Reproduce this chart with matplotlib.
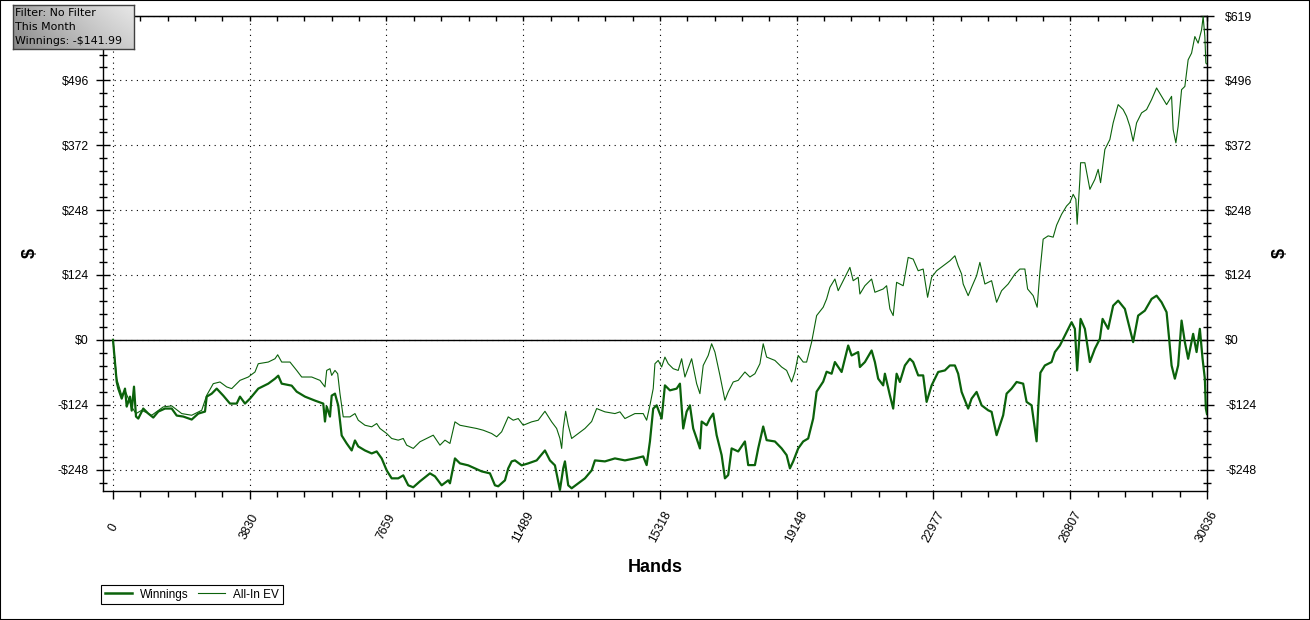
import numpy as np
import matplotlib
matplotlib.use("Agg")
import matplotlib.pyplot as plt
from matplotlib.ticker import FixedLocator, FuncFormatter
from matplotlib.patches import Rectangle
from matplotlib.lines import Line2D

# ---------------- data ----------------
winnings_hands = [0, 104, 148, 244, 336, 384, 476, 524, 588, 644, 708, 848, 988, 1128, 1268,
                  1456, 1644, 1784, 1968, 2204, 2388, 2576, 2624, 2764, 2904, 3088, 3276, 3464,
                  3556, 3696, 3836, 4068, 4348, 4536, 4628, 4724, 5004, 5144, 5376, 5656, 5888,
                  5936, 5984, 6076, 6124, 6216, 6308, 6404, 6544, 6684, 6776, 6868, 7056, 7244,
                  7384, 7524, 7664, 7804, 7988, 8128, 8268, 8408, 8596, 8876, 9016, 9204, 9388,
                  9436, 9576, 9716, 9948, 10136, 10324, 10556, 10696, 10788, 10976, 11068, 11164,
                  11256, 11444, 11628, 11864, 12096, 12236, 12376, 12468, 12516, 12608, 12656,
                  12748, 12844, 13028, 13216, 13404, 13496, 13776, 14056, 14336, 14616, 14848,
                  14944, 15036, 15128, 15224, 15364, 15456, 15596, 15784, 15876, 15968, 16064,
                  16156, 16248, 16344, 16436, 16484, 16624, 16716, 16808, 16904, 17044, 17136,
                  17228, 17324, 17508, 17696, 17788, 17976, 18068, 18208, 18304, 18536, 18724,
                  18864, 18956, 19048, 19188, 19328, 19468, 19608, 19704, 19888, 19984, 20124,
                  20216, 20404, 20588, 20684, 20868, 20916, 21056, 21244, 21336, 21428, 21568,
                  21616, 21756, 21848, 21944, 22036, 22176, 22316, 22408, 22548, 22688, 22784,
                  22924, 23108, 23296, 23436, 23576, 23668, 23764, 23948, 24044, 24184, 24324,
                  24508, 24604, 24744, 24836, 24928, 25024, 25164, 25304, 25488, 25584, 25724,
                  25864, 25908, 25970, 26096, 26284, 26376, 26516, 26656, 26844, 26936, 27000,
                  27096, 27216, 27356, 27496, 27636, 27712, 27868, 28008, 28148, 28336, 28476,
                  28568, 28708, 28896, 29084, 29224, 29364, 29504, 29576, 29644, 29736, 29828,
                  29924, 30016, 30108, 30248, 30344, 30436, 30512, 30576, 30604, 30636]
winnings_usd = [0, -80.6, -93.3, -112.4, -93.3, -127.6, -108.6, -135.3, -89.5, -146.7, -150.5,
                -131.4, -141.0, -148.6, -137.2, -131.4, -131.4, -144.8, -146.7, -152.4, -141.0,
                -137.2, -108.6, -102.9, -93.3, -106.7, -121.9, -121.9, -108.6, -121.9, -112.4,
                -93.3, -83.8, -74.3, -68.6, -83.8, -87.6, -99.1, -108.6, -116.2, -121.9, -156.2,
                -127.6, -146.7, -106.7, -102.9, -125.7, -182.9, -198.1, -211.5, -192.4, -203.8,
                -211.5, -217.2, -213.4, -226.7, -249.6, -264.8, -264.8, -259.1, -278.1, -281.9,
                -270.5, -255.3, -261.0, -278.1, -268.6, -274.3, -226.7, -236.2, -240.0, -245.7,
                -251.5, -255.3, -278.1, -280.0, -268.6, -245.7, -232.4, -230.5, -240.0, -236.2,
                -230.5, -211.5, -230.5, -240.0, -270.5, -287.0, -245.7, -232.4, -278.1, -283.8,
                -274.3, -264.8, -249.6, -230.5, -232.4, -226.7, -230.5, -226.7, -222.9, -239.5,
                -194.3, -131.4, -125.2, -150.5, -87.1, -96.6, -93.3, -83.8, -169.5, -137.2,
                -125.2, -169.5, -188.6, -207.6, -156.2, -163.3, -150.5, -141.0, -182.3, -220.4,
                -264.8, -258.5, -207.6, -213.4, -194.3, -239.5, -239.5, -207.6, -165.7, -191.8,
                -194.3, -207.6, -220.4, -245.7, -232.4, -207.6, -194.3, -188.6, -150.5, -99.1,
                -80.0, -61.0, -64.8, -42.5, -61.5, -10.9, -29.9, -23.4, -52.0, -42.5, -20.4,
                -42.5, -74.3, -87.1, -64.8, -106.1, -131.4, -64.8, -80.6, -49.0, -36.2, -42.5,
                -68.0, -68.0, -118.7, -87.1, -61.5, -58.5, -49.0, -49.0, -64.8, -99.6, -131.4,
                -112.4, -99.6, -125.2, -134.7, -137.7, -182.3, -163.3, -144.2, -102.9, -93.3,
                -80.6, -83.8, -118.7, -125.2, -194.0, -131.4, -62.9, -49.0, -42.5, -23.4, -10.9,
                8.2, 33.7, 21.0, -58.5, 40.0, 21.0, -42.5, -17.1, 1.9, 40.0, 21.0, 65.3, 74.9,
                59.1, 21.0, -4.4, 46.3, 55.8, 78.1, 84.4, 71.8, 52.8, 1.9, -49.0, -74.3, -49.0,
                36.8, -4.4, -36.2, 11.4, -23.4, 21.0, -36.2, -74.3, -131.4, -141.99]

allin_hands = [0, 104, 244, 336, 524, 644, 804, 1084, 1408, 1644, 1924, 2204, 2484, 2624, 2808,
               2996, 3184, 3324, 3556, 3788, 3976, 4068, 4348, 4536, 4612, 4724, 4956, 5144,
               5284, 5564, 5796, 5936, 5984, 6076, 6124, 6216, 6292, 6356, 6448, 6636, 6776,
               6868, 7056, 7244, 7384, 7476, 7664, 7804, 7988, 8128, 8224, 8408, 8596, 8784,
               8968, 9156, 9296, 9436, 9576, 9716, 9948, 10184, 10368, 10604, 10744, 10884,
               11068, 11208, 11348, 11488, 11724, 11908, 12096, 12284, 12424, 12516, 12564,
               12608, 12676, 12748, 12844, 13028, 13216, 13404, 13544, 13776, 14056, 14196,
               14336, 14616, 14848, 14944, 15036, 15128, 15176, 15268, 15364, 15456, 15548,
               15688, 15828, 15924, 16016, 16204, 16344, 16436, 16528, 16668, 16764, 16856,
               16996, 17136, 17228, 17368, 17508, 17696, 17836, 17976, 18116, 18208, 18304,
               18536, 18724, 18864, 19004, 19096, 19188, 19328, 19424, 19564, 19704, 19888,
               19984, 20076, 20216, 20308, 20448, 20636, 20728, 20868, 20916, 21056, 21244,
               21336, 21568, 21664, 21756, 21848, 21944, 22128, 22268, 22408, 22548, 22688,
               22812, 22924, 23064, 23248, 23436, 23576, 23668, 23764, 23808, 23948, 24044,
               24184, 24276, 24416, 24604, 24744, 24884, 25068, 25256, 25396, 25536, 25612,
               25768, 25880, 25956, 26048, 26188, 26328, 26424, 26564, 26704, 26796, 26888,
               26964, 27000, 27076, 27096, 27216, 27356, 27496, 27588, 27656, 27776, 27916,
               28008, 28148, 28288, 28384, 28476, 28568, 28664, 28804, 28944, 29084, 29224,
               29364, 29504, 29644, 29688, 29764, 29828, 29924, 30016, 30108, 30204, 30296,
               30388, 30484, 30528, 30576, 30604, 30636]
allin_usd = [0, -74.3, -106.1, -96.6, -128.2, -141.0, -134.7, -144.2, -128.2, -126.3, -141.0,
             -144.2, -134.7, -106.1, -83.8, -80.6, -90.1, -93.3, -77.5, -71.1, -61.5, -45.7,
             -42.5, -36.2, -28.6, -42.5, -42.5, -58.5, -71.1, -71.1, -77.5, -90.1, -58.5,
             -55.2, -68.0, -58.5, -64.8, -102.9, -147.3, -147.3, -141.0, -153.7, -163.3,
             -166.3, -160.0, -169.5, -179.1, -188.6, -191.8, -188.6, -201.4, -207.6, -194.9,
             -188.6, -182.3, -201.4, -191.8, -198.1, -156.8, -163.3, -166.3, -169.5, -172.8,
             -179.1, -185.4, -175.8, -147.3, -153.7, -150.5, -163.3, -156.8, -153.7, -136.6,
             -156.8, -169.5, -188.6, -207.6, -169.5, -136.6, -163.3, -188.6, -179.1, -169.5,
             -156.2, -131.4, -137.7, -141.0, -137.7, -150.5, -141.0, -141.0, -153.7, -125.2,
             -93.3, -45.7, -39.4, -52.0, -33.0, -45.7, -55.2, -58.5, -36.2, -71.1, -36.2,
             -83.8, -102.9, -49.0, -29.9, -7.6, -23.4, -68.0, -115.6, -99.6, -80.6, -77.5,
             -61.5, -71.1, -64.8, -45.7, -7.6, -33.0, -39.4, -52.0, -58.5, -80.6, -61.5,
             -29.9, -42.5, -42.5, -4.4, 46.3, 62.3, 78.1, 100.4, 116.2, 93.9, 113.0, 138.5,
             113.0, 119.4, 87.6, 103.4, 116.2, 90.9, 97.2, 103.4, 59.1, 46.3, 109.9, 103.4,
             157.5, 154.3, 132.0, 135.3, 81.3, 119.4, 132.0, 141.5, 151.1, 160.6, 141.5,
             125.7, 106.7, 84.4, 100.4, 122.5, 148.0, 106.7, 113.0, 71.8, 93.9, 106.7, 125.7,
             135.3, 135.3, 97.2, 84.4, 62.3, 129.0, 192.4, 198.7, 196.2, 219.1, 240.0, 255.8,
             262.3, 278.1, 268.6, 221.0, 306.7, 338.5, 338.5, 287.7, 306.7, 325.8, 300.4,
             363.9, 382.9, 414.7, 449.6, 440.1, 427.3, 408.2, 379.7, 414.7, 433.8, 440.1,
             459.1, 481.4, 465.4, 449.6, 465.4, 402.0, 376.6, 408.2, 478.2, 484.4, 535.3,
             548.1, 579.7, 567.1, 592.5, 617.8, 579.7, 529.0, 527.0]

x_ticks = [0, 3830, 7659, 11489, 15318, 19148, 22977, 26807, 30636]
y_ticks = [-248, -124, 0, 124, 248, 372, 496, 619]
series_names = ["Winnings", "All-In EV"]
filter_lines = ["Filter: No Filter", "This Month", "Winnings: -$141.99"]

# ---------------- layout ----------------
W, H = 1310, 620
plt.rcParams['font.family'] = ['Liberation Sans', 'DejaVu Sans']
fig = plt.figure(figsize=(W / 100, H / 100), dpi=100)
fig.patch.set_facecolor('white')

L, R, T, B = 103, 1207, 16, 491
ax = fig.add_axes([L / W, 1 - B / H, (R - L) / W, (B - T) / H])
green = '#0b620b'

ax.plot(winnings_hands, winnings_usd, color=green, lw=1.6, zorder=4)
ax.plot(allin_hands, allin_usd, color=green, lw=0.8, zorder=3)
ax.axhline(0, color='black', lw=1.0, zorder=2)

ax.set_xlim(-280, 30636)
ax.set_ylim(-289, 619)


def minor_positions(ticks, below=False):
    out = []
    for a, b in zip(ticks[:-1], ticks[1:]):
        step = (b - a) / 5
        out += [a + k * step for k in range(1, 5)]
    if below:
        step = (ticks[1] - ticks[0]) / 5
        out.insert(0, ticks[0] - step)
    return out


x_minor = minor_positions(x_ticks)
y_minor = minor_positions(y_ticks, below=True)


def fmt_money(v):
    return ("-$%d" % abs(round(v))) if v < 0 else ("$%d" % round(v))


money = FuncFormatter(lambda v, p: fmt_money(v))
# on the left the top label is hidden behind the filter box in the reference
money_left = FuncFormatter(lambda v, p: "" if v >= y_ticks[-1] else fmt_money(v))

ax.xaxis.set_major_locator(FixedLocator(x_ticks))
ax.xaxis.set_minor_locator(FixedLocator(x_minor))
ax.yaxis.set_major_locator(FixedLocator(y_ticks))
ax.yaxis.set_minor_locator(FixedLocator(y_minor))
ax.yaxis.set_major_formatter(money_left)
ax.set_xticklabels([str(t) for t in x_ticks])

ax.tick_params(axis='x', which='major', direction='out', length=6, width=1,
               labelsize=8.8, pad=20)
ax.tick_params(axis='x', which='minor', direction='out', length=4, width=1)
ax.tick_params(axis='y', which='major', direction='inout', length=10, width=1,
               labelsize=8.8, pad=5)
ax.tick_params(axis='y', which='minor', direction='inout', length=6, width=1)
for lab in ax.get_xticklabels():
    lab.set_rotation(62)
    lab.set_rotation_mode('anchor')
    lab.set_ha('center')
    lab.set_va('center')

ax.grid(which='major', color='black', linestyle=(0, (1, 4)), linewidth=0.8)
for s in ax.spines.values():
    s.set_linewidth(1.0)

# top ticks (inward, no labels)
secx = ax.secondary_xaxis('top')
secx.xaxis.set_major_locator(FixedLocator(x_ticks))
secx.xaxis.set_minor_locator(FixedLocator(x_minor))
secx.tick_params(axis='x', which='both', direction='in', length=3.6, width=1,
                 labeltop=False, labelbottom=False)

# right axis
secy = ax.secondary_yaxis('right')
secy.yaxis.set_major_locator(FixedLocator(y_ticks))
secy.yaxis.set_minor_locator(FixedLocator(y_minor))
secy.yaxis.set_major_formatter(money)
secy.tick_params(axis='y', which='major', direction='inout', length=10, width=1,
                 labelsize=8.8, pad=8)
secy.tick_params(axis='y', which='minor', direction='inout', length=6, width=1)

# axis labels
fig.text(30 / W, 1 - 253 / H, '$', rotation=90, ha='center', va='center',
         fontsize=13, fontweight='bold')
fig.text(1280 / W, 1 - 253 / H, '$', rotation=90, ha='center', va='center',
         fontsize=13, fontweight='bold')
fig.text(655 / W, 1 - 567 / H, 'Hands', ha='center', va='center',
         fontsize=13, fontweight='bold')

# legend
handles = [Line2D([], [], color=green, lw=1.8), Line2D([], [], color=green, lw=0.8)]
leg = fig.legend(handles, series_names, loc='upper left',
                 bbox_to_anchor=(101 / W, 1 - 585 / H), ncol=2, frameon=True,
                 fancybox=False, edgecolor='black', framealpha=1, fontsize=8.5,
                 handlelength=2.3, handletextpad=0.7, columnspacing=0.8,
                 borderpad=0.3, borderaxespad=0)
leg.get_frame().set_linewidth(0.8)

# filter info box
bax = fig.add_axes([13 / W, 1 - 49 / H, 121 / W, 44 / H], zorder=10)
gx, gy = np.meshgrid(np.linspace(0, 1, 200), np.linspace(0, 1, 60))
grad = 0.56 + 0.26 * gx + 0.10 * (1 - gy) - 0.08 * (gx - 0.6) ** 2
bax.imshow(grad, cmap='gray', vmin=0, vmax=1, aspect='auto', extent=[0, 1, 0, 1],
           origin='upper')
bax.set_xticks([])
bax.set_yticks([])
for s in bax.spines.values():
    s.set_color('#404040')
    s.set_linewidth(1)
for i, line in enumerate(filter_lines):
    bax.text(0.02, 0.815 - i * 0.318, line, transform=bax.transAxes, ha='left',
             va='center', fontsize=7.9, family=['DejaVu Sans'], color='black')

# outer border
fig.add_artist(Rectangle((0, 0), 1, 1, transform=fig.transFigure, fill=False,
                         edgecolor='black', lw=1.5))

fig.savefig('out.png', dpi=100)
